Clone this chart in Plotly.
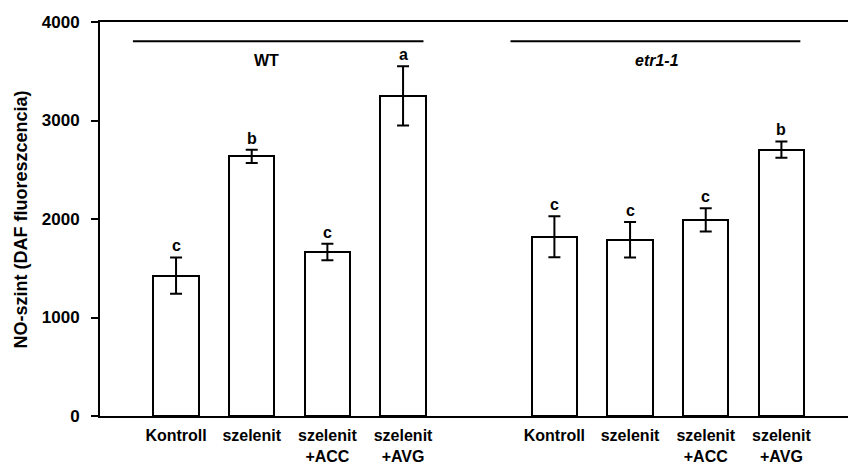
import plotly.graph_objects as go

# Data
positions = [0, 1, 2, 3, 5, 6, 7, 8]
categories = ["Kontroll", "szelenit", "szelenit<br>+ACC", "szelenit<br>+AVG",
              "Kontroll", "szelenit", "szelenit<br>+ACC", "szelenit<br>+AVG"]
means = [1425, 2635, 1665, 3250, 1820, 1790, 1990, 2705]
errors = [185, 67, 85, 300, 208, 180, 118, 83]
letters = ["c", "b", "c", "a", "c", "c", "c", "b"]
groups = ["WT", "<i>etr1-1</i>"]
y_ticks = [0, 1000, 2000, 3000, 4000]

FONT = "Liberation Sans"

fig = go.Figure()
fig.add_trace(go.Bar(
    x=positions, y=means, width=0.6,
    marker=dict(color="white", line=dict(color="black", width=2)),
    error_y=dict(type="data", array=errors, visible=True, color="black",
                 thickness=2, width=6),
    showlegend=False,
))

for xp, m, e, l in zip(positions, means, errors, letters):
    fig.add_annotation(x=xp, y=m + e, text=l, showarrow=False, yanchor="bottom",
                       yshift=1, font=dict(family=FONT, size=16, color="black", weight=700))

# group lines and labels
group_spans = [(-0.57, 3.27), (4.42, 8.25)]
label_x = [1.2, 6.35]
for (x0, x1), g, lx in zip(group_spans, groups, label_x):
    fig.add_shape(type="line", xref="x", yref="y", x0=x0, x1=x1, y0=3805, y1=3805,
                  line=dict(color="black", width=2))
    fig.add_annotation(x=lx, y=3610, text=g, showarrow=False, yanchor="middle",
                       font=dict(family=FONT, size=16, color="black", weight=700))

fig.add_annotation(xref="paper", yref="paper", x=-0.105, y=0.5, xanchor="center",
                   yanchor="middle", textangle=-90, showarrow=False,
                   text="NO-szint (DAF fluoreszcencia)",
                   font=dict(family=FONT, size=18, color="black", weight=700))

fig.update_layout(
    width=848, height=464,
    margin=dict(l=100, r=0, t=22, b=48),
    paper_bgcolor="white", plot_bgcolor="white",
    font=dict(family=FONT, color="black"),
    bargap=0,
)
fig.update_xaxes(
    range=[-1.005, 8.88], tickmode="array", tickvals=positions, ticktext=categories,
    showline=True, linecolor="black", linewidth=2, mirror=True, ticks="",
    showgrid=False, zeroline=False, ticklabelstandoff=4,
    tickfont=dict(family=FONT, size=16, color="black", weight=700),
)
fig.update_yaxes(
    range=[0, 4000], tickmode="array", tickvals=y_ticks,
    showline=True, linecolor="black", linewidth=2, ticks="outside", ticklen=7,
    tickwidth=2, tickcolor="black", showgrid=False, zeroline=False,
    ticklabelstandoff=8,
    tickfont=dict(family=FONT, size=17, color="black", weight=700),
)

fig.write_html("out.html")
